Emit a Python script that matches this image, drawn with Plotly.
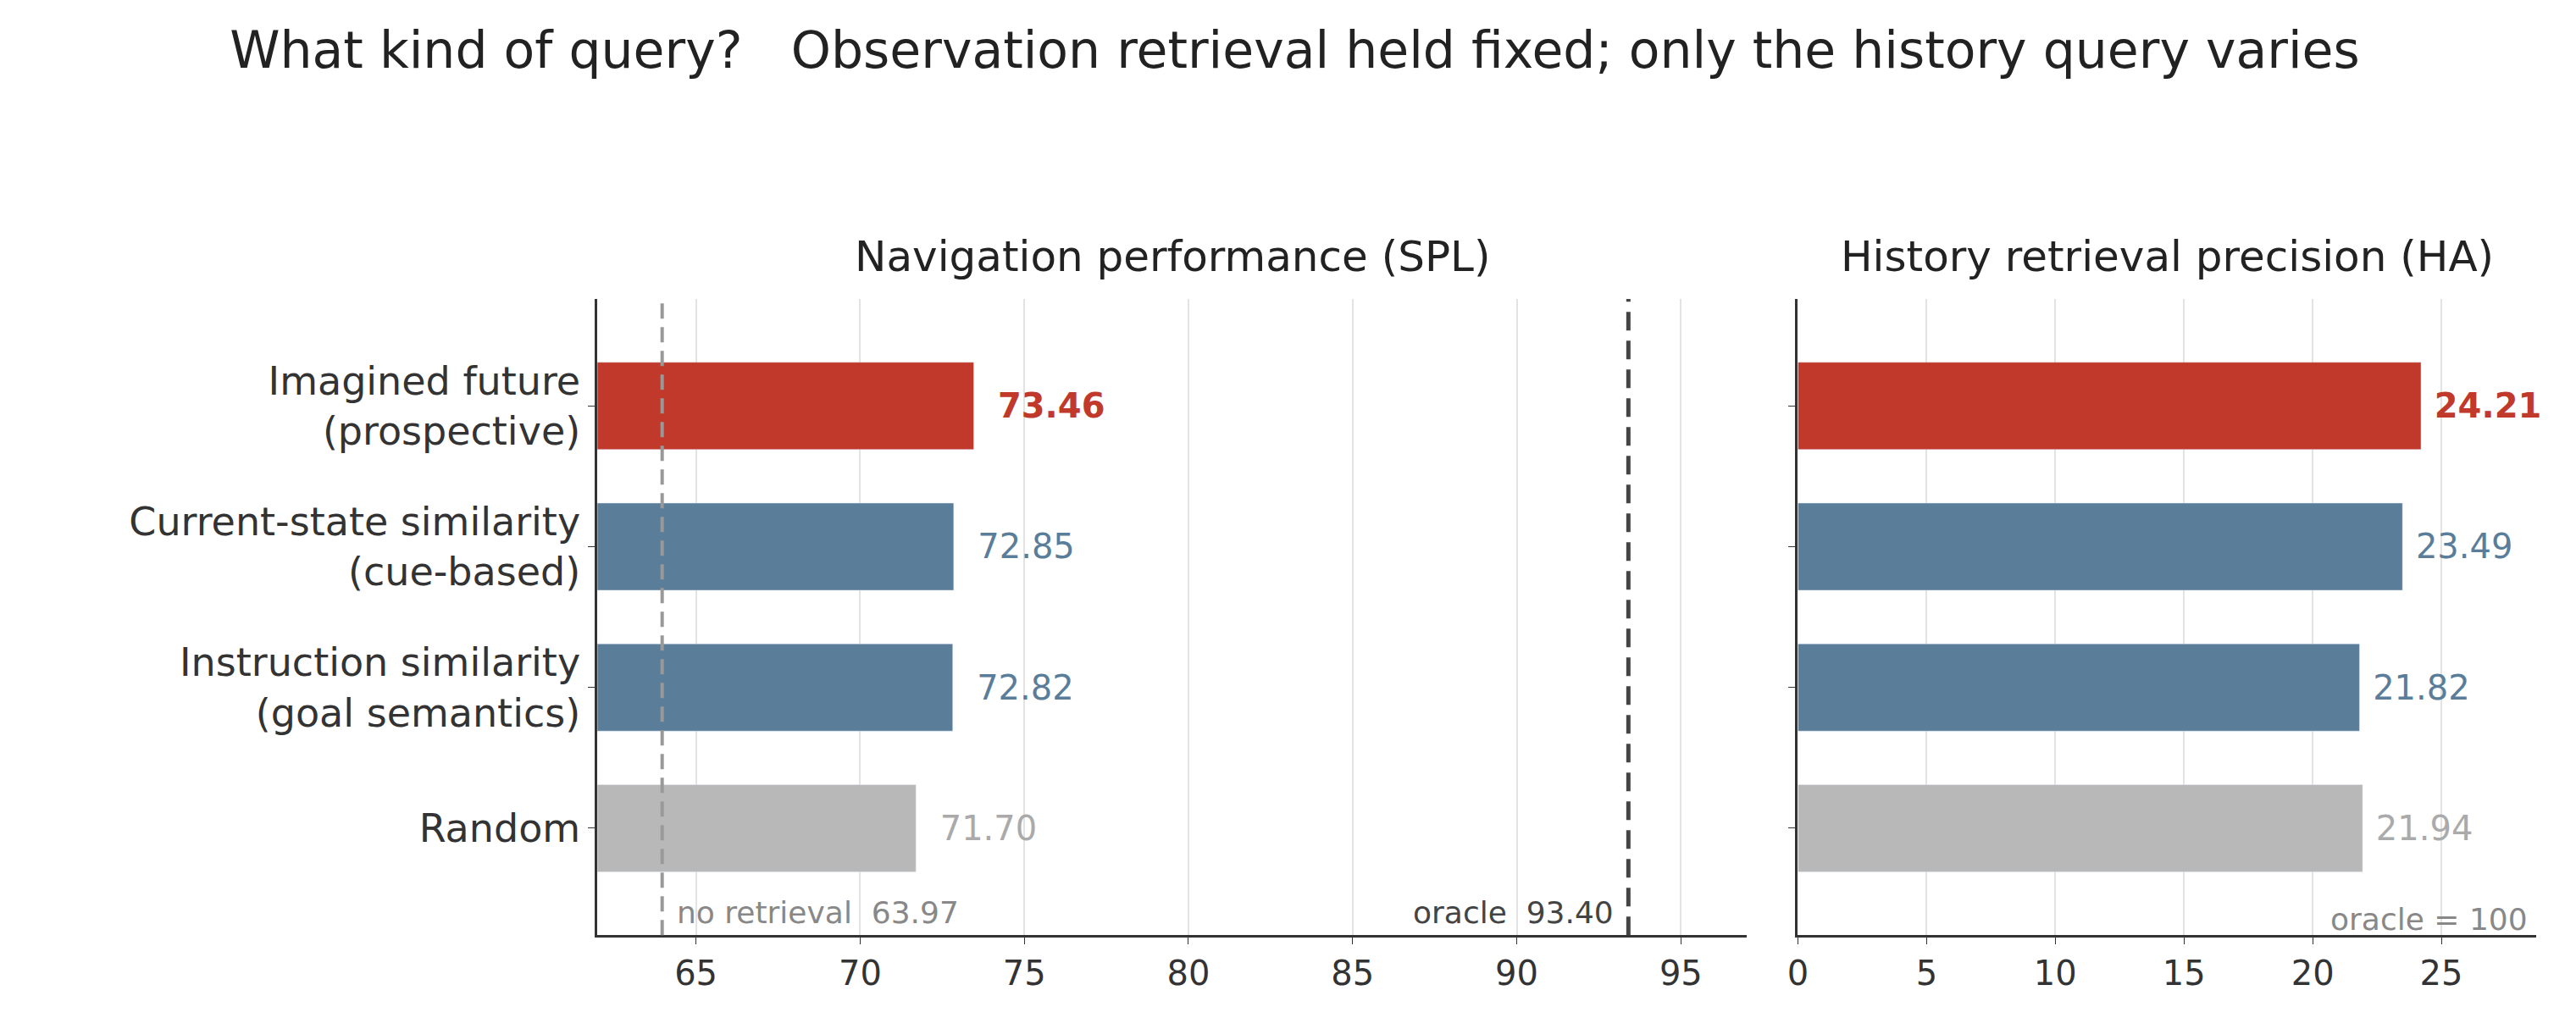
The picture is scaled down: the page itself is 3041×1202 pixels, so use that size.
import plotly.graph_objects as go

# Data
categories = ["Imagined future<br>(prospective)", "Current-state similarity<br>(cue-based)",
              "Instruction similarity<br>(goal semantics)", "Random"]
spl = [73.46, 72.85, 72.82, 71.70]
ha = [24.21, 23.49, 21.82, 21.94]
colors = ["#c0392b", "#5a7d9a", "#5a7d9a", "#b8b8b8"]
text_colors = ["#c0392b", "#5a7d9a", "#5a7d9a", "#aaaaaa"]
no_retrieval = 63.97
oracle_spl = 93.40

def labels(vals, pad):
    out = []
    for i, v in enumerate(vals):
        s = f"{v:.2f}"
        out.append(pad + (f"<b>{s}</b>" if i == 0 else s))
    return out

fig = go.Figure()
fig.add_trace(go.Bar(y=categories, x=spl, orientation="h", marker_color=colors, width=0.62,
                     text=labels(spl, "  "), textposition="outside", cliponaxis=False,
                     textfont=dict(size=40, color=text_colors), xaxis="x", yaxis="y"))
fig.add_trace(go.Bar(y=categories, x=ha, orientation="h", marker_color=colors, width=0.62,
                     text=labels(ha, " "), textposition="outside", cliponaxis=False,
                     textfont=dict(size=40, color=text_colors), xaxis="x2", yaxis="y2"))

fig.add_shape(type="line", x0=no_retrieval, x1=no_retrieval, y0=0, y1=1, xref="x", yref="y domain",
              line=dict(color="#999999", width=4, dash="18px,10px"))
fig.add_shape(type="line", x0=oracle_spl, x1=oracle_spl, y0=0, y1=1, xref="x", yref="y domain",
              line=dict(color="#444444", width=5, dash="22px,12px"))

fig.add_annotation(x=no_retrieval + 0.4, y=0.005, xref="x", yref="y domain", xanchor="left", yanchor="bottom",
                   text=f"no retrieval  {no_retrieval:.2f}", showarrow=False, font=dict(size=36, color="#888888"))
fig.add_annotation(x=oracle_spl - 0.4, y=0.005, xref="x", yref="y domain", xanchor="right", yanchor="bottom",
                   text=f"oracle  {oracle_spl:.2f}", showarrow=False, font=dict(size=36, color="#444444"))
fig.add_annotation(x=0.99, y=-0.005, xref="x2 domain", yref="y2 domain", xanchor="right", yanchor="bottom",
                   text="oracle = 100", showarrow=False, font=dict(size=36, color="#888888"))

fig.add_annotation(x=0.5, y=1.025, xref="x domain", yref="y domain", yanchor="bottom",
                   text="Navigation performance (SPL)", showarrow=False, font=dict(size=50, color="#222222"))
fig.add_annotation(x=0.5, y=1.025, xref="x2 domain", yref="y2 domain", yanchor="bottom",
                   text="History retrieval precision (HA)", showarrow=False, font=dict(size=50, color="#222222"))

axis_common = dict(showgrid=True, gridcolor="#e3e3e3", gridwidth=2, showline=True, linecolor="#333333",
                   linewidth=3, ticks="outside", ticklen=8, tickcolor="#333333",
                   tickfont=dict(size=40, color="#333333"), zeroline=False)
yaxis_common = dict(domain=[0.088, 0.713], range=[3.76, -0.76], showline=True, linecolor="#333333",
                    linewidth=3, ticks="outside", ticklen=8, tickcolor="#333333", showgrid=False)
fig.update_layout(
    width=3041, height=1202, plot_bgcolor="white", paper_bgcolor="white",
    font=dict(family="DejaVu Sans", color="#333333"),
    showlegend=False,
    margin=dict(l=0, r=0, t=0, b=0),
    title=dict(text="What kind of query?   Observation retrieval held fixed; only the history query varies",
               x=0.5, xanchor="center", y=0.975, yanchor="top", font=dict(size=60, color="#222222")),
    xaxis=dict(domain=[0.226, 0.674], range=[62, 97], tickvals=[65, 70, 75, 80, 85, 90, 95], **axis_common),
    xaxis2=dict(domain=[0.694, 0.982], range=[0, 28.7], tickvals=[0, 5, 10, 15, 20, 25], **axis_common),
    yaxis=dict(anchor="x", tickfont=dict(size=46, color="#333333"), **yaxis_common),
    yaxis2=dict(anchor="x2", showticklabels=False, **yaxis_common),
)

fig.write_html("out.html")
